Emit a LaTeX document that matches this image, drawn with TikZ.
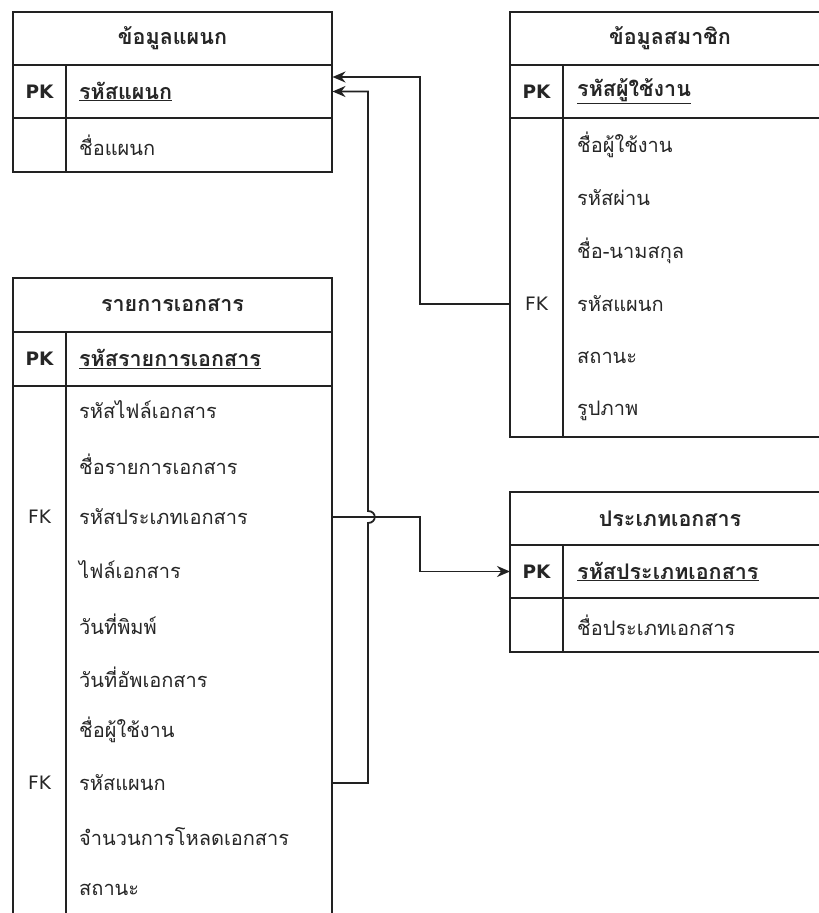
\documentclass[tikz,border=0pt]{standalone}
\usepackage{fontspec}
\setmainfont{Loma}[Script=Thai]
\newfontfamily\keyfont{DejaVu Sans}
\usetikzlibrary{arrows.meta}

\definecolor{linec}{HTML}{222222}
\definecolor{txtc}{HTML}{262626}

\tikzset{
  frame/.style={draw=linec, line width=1.8pt},
  rowbox/.style={minimum width=320pt, minimum height=53pt, inner sep=0pt, outer sep=0pt},
  title/.style={font=\fontsize{21.5}{24}\selectfont\bfseries, text=txtc, inner sep=0pt},
  field/.style={anchor=west, font=\fontsize{20}{24}\selectfont, text=txtc, inner sep=0pt},
  pkfield/.style={field, font=\fontsize{21.5}{24}\selectfont\bfseries},
  keytag/.style={font=\keyfont\fontsize{18.5}{22}\selectfont, text=txtc, inner sep=0pt},
  pktag/.style={keytag, font=\keyfont\fontsize{18.5}{22}\selectfont\bfseries},
  fk/.style={draw=linec, line width=1.8pt, -{Stealth[length=13pt,width=11pt]}}
}

\begin{document}
\begin{tikzpicture}[x=1pt, y=-1pt]
\useasboundingbox (0,0) rectangle (819,913);
\clip (0,0) rectangle (819,913);
\fill[white] (0,0) rectangle (819,913);

% ---------- ข้อมูลแผนก ----------
\draw[frame] (13,12) rectangle (332,172);
\draw[frame] (13,65) -- (332,65) (13,118) -- (332,118) (66,65) -- (66,172);
\node[title] (dt) at (172.5,38.5) {ข้อมูลแผนก};
\node[rowbox] (dpk) at (172.5,91.5) {};
\node[rowbox] (d1r) at (172.5,145) {};
\node[pktag] at (39.5,91.5) {PK};
\node[pkfield] (dpkt) at (79,91.5) {\underline{รหัสแผนก}};
\node[field] (d1t) at (79,145) {ชื่อแผนก};

% ---------- ข้อมูลสมาชิก ----------
\draw[frame] (510,12) rectangle (830,437);
\draw[frame] (510,65) -- (830,65) (510,118) -- (830,118) (563,65) -- (563,437);
\node[title] (mt) at (670,38.5) {ข้อมูลสมาชิก};
\node[rowbox] (mpk) at (670,91.5) {};
\node[pktag] at (536.5,91.5) {PK};
\node[pkfield] at (577,91.5) {\underline{รหัสผู้ใช้งาน}};
\node[field] at (577,145) {ชื่อผู้ใช้งาน};
\node[field] at (577,198) {รหัสผ่าน};
\node[field] at (577,251) {ชื่อ-นามสกุล};
\node[rowbox] (m4) at (670,304) {};
\node[keytag] at (536.5,304) {FK};
\node[field] at (577,304) {รหัสแผนก};
\node[field] at (577,358) {สถานะ};
\node[field] at (577,411) {รูปภาพ};

% ---------- รายการเอกสาร ----------
\draw[frame] (13,930) -- (13,278) -- (332,278) -- (332,930);
\draw[frame] (13,332) -- (332,332) (13,386) -- (332,386) (66,332) -- (66,930);
\node[title] (rt) at (172.5,305) {รายการเอกสาร};
\node[pktag] at (39.5,359) {PK};
\node[pkfield] at (79,359) {\underline{รหัสรายการเอกสาร}};
\node[field] at (79,410) {รหัสไฟล์เอกสาร};
\node[field] at (79,464) {ชื่อรายการเอกสาร};
\node[rowbox] (r3) at (172.5,517) {};
\node[keytag] at (39.5,517) {FK};
\node[field] at (79,517) {รหัสประเภทเอกสาร};
\node[field] at (79,570) {ไฟล์เอกสาร};
\node[field] at (79,624) {วันที่พิมพ์};
\node[field] at (79,677) {วันที่อัพเอกสาร};
\node[field] at (79,730) {ชื่อผู้ใช้งาน};
\node[rowbox] (r8) at (172.5,783) {};
\node[keytag] at (39.5,783) {FK};
\node[field] at (79,783) {รหัสแผนก};
\node[field] at (79,837) {จำนวนการโหลดเอกสาร};
\node[field] at (79,890) {สถานะ};

% ---------- ประเภทเอกสาร ----------
\draw[frame] (510,492) rectangle (830,652);
\draw[frame] (510,545) -- (830,545) (510,598) -- (830,598) (563,545) -- (563,652);
\node[title] (tt) at (670,518.5) {ประเภทเอกสาร};
\node[rowbox] (tpk) at (670,571.5) {};
\node[pktag] at (536.5,571.5) {PK};
\node[pkfield] at (577,571.5) {\underline{รหัสประเภทเอกสาร}};
\node[field] at (577,625) {ชื่อประเภทเอกสาร};

% ---------- relationships ----------
\draw[fk] (m4.west) -- (420,304) -- (420,77) -- ([yshift=14.5pt]dpk.east);
\draw[fk] (r8.east) -- (368,783) -- (368,523)
  .. controls (377,523) and (377,511) .. (368,511) -- (368,91.5) -- (dpk.east);
\draw[fk] (r3.east) -- (420,517) -- (420,571.5) -- (tpk.west);
\end{tikzpicture}
\end{document}
